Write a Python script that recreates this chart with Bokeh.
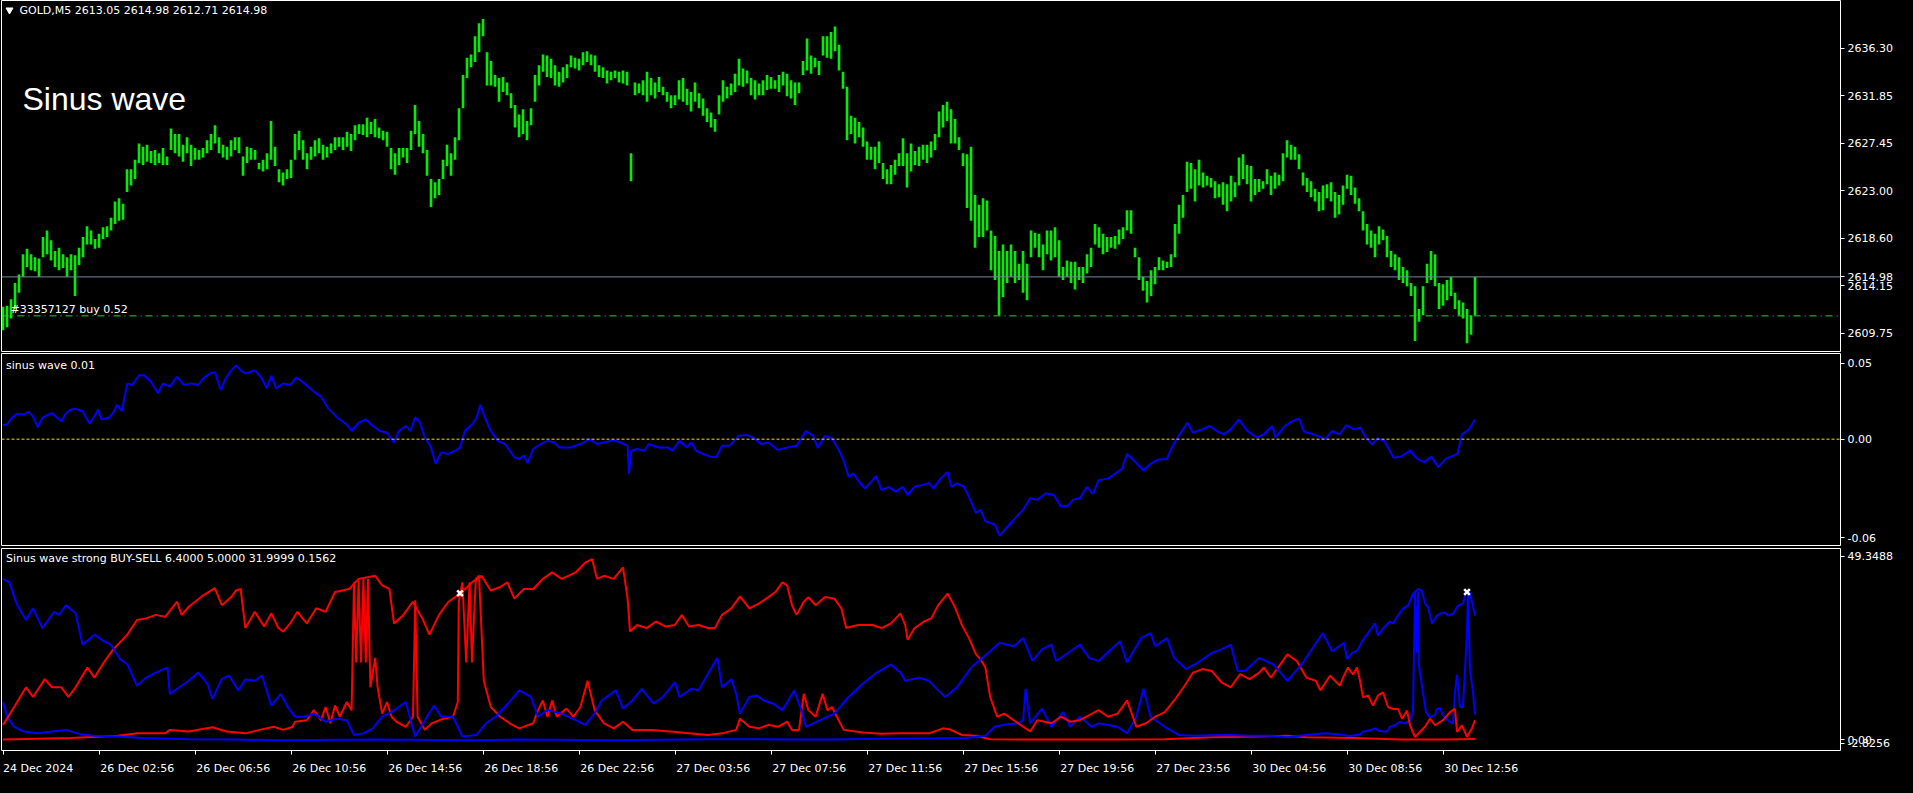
from bokeh.plotting import figure
from bokeh.layouts import column
from bokeh.models import Range1d, Span, Label, FixedTicker
from bokeh.embed import file_html
from bokeh.resources import INLINE

# ---------------- data ----------------
symbol_title = "GOLD,M5  2613.05 2614.98 2612.71 2614.98"
chart_title = "Sinus wave"
sub1_title = "sinus wave 0.01"
sub2_title = "Sinus wave strong BUY-SELL 6.4000 5.0000 31.9999 0.1562"
order_text = "#33357127 buy 0.52"
last_price = 2614.98
order_price = 2611.35

# one entry per 2 M5 bars (highs / lows)
price_hi = [
    2612.2, 2612.3, 2612.9, 2614.4, 2615.2, 2617.1, 2617.6, 2617.1, 2616.8, 2616.7,
    2618.7, 2619.3, 2618.4, 2617.4, 2617.7, 2617.1, 2616.8, 2617.1, 2617.0, 2617.7,
    2618.7, 2619.7, 2619.3, 2618.5, 2619.0, 2619.6, 2619.7, 2620.5, 2622.0, 2622.3,
    2621.8, 2625.0, 2625.0, 2625.9, 2627.4, 2627.1, 2627.3, 2626.7, 2626.8, 2626.5,
    2627.0, 2626.2, 2628.8, 2628.3, 2628.3, 2627.3, 2628.0, 2627.3, 2627.0, 2626.8,
    2627.0, 2627.7, 2628.3, 2629.1, 2628.0, 2627.3, 2627.1, 2627.7, 2628.0, 2628.0,
    2626.2, 2627.1, 2627.0, 2626.8, 2625.6, 2625.9, 2626.5, 2629.5, 2627.1, 2625.0,
    2624.7, 2625.0, 2625.9, 2628.3, 2628.6, 2627.7, 2626.5, 2627.1, 2627.7, 2627.9,
    2627.3, 2627.1, 2627.4, 2628.0, 2628.0, 2628.0, 2628.5, 2628.3, 2629.1, 2629.2,
    2629.2, 2629.8, 2629.4, 2629.7, 2628.9, 2628.6, 2628.5, 2627.0, 2626.5, 2627.0,
    2627.0, 2627.0, 2628.6, 2631.0, 2629.5, 2628.3, 2626.8, 2624.1, 2623.8, 2624.1,
    2625.9, 2627.3, 2626.5, 2628.0, 2630.7, 2633.8, 2635.4, 2635.7, 2637.4, 2638.6,
    2639.0, 2635.9, 2635.1, 2633.8, 2633.5, 2633.6, 2633.1, 2632.1, 2631.0, 2630.1,
    2630.6, 2629.5, 2630.7, 2633.8, 2634.7, 2635.7, 2635.6, 2635.3, 2634.7, 2634.1,
    2634.5, 2634.8, 2635.6, 2635.4, 2635.3, 2635.9, 2636.0, 2635.7, 2635.6, 2634.7,
    2634.5, 2634.2, 2634.1, 2634.2, 2634.1, 2634.2, 2634.1, 2626.5, 2633.1, 2633.0,
    2633.3, 2634.1, 2633.5, 2633.1, 2633.6, 2632.7, 2632.2, 2631.9, 2631.9, 2633.3,
    2633.5, 2632.5, 2632.2, 2633.1, 2632.1, 2631.6, 2630.7, 2630.3, 2629.7, 2631.9,
    2633.3, 2632.7, 2633.0, 2633.9, 2635.3,
    2634.4, 2634.2, 2633.5, 2633.3, 2633.0, 2633.3, 2633.8, 2633.6, 2633.3, 2633.8,
    2634.1, 2633.9, 2633.3, 2633.1, 2633.1, 2635.1, 2637.2, 2635.6, 2635.4, 2635.1,
    2637.4, 2637.4, 2637.8, 2638.3, 2636.6, 2634.1, 2632.7, 2630.0, 2629.8, 2629.4,
    2628.9, 2627.6, 2627.1, 2627.1, 2627.6, 2625.6, 2625.0, 2625.4, 2625.9, 2626.5,
    2627.9, 2626.5, 2627.4, 2626.7, 2627.1, 2627.3, 2627.3, 2627.6, 2628.3, 2630.4,
    2631.0, 2631.3, 2630.6, 2629.7, 2628.0, 2626.5, 2626.4, 2627.1, 2622.6, 2621.7,
    2622.3, 2622.1, 2619.3, 2618.8, 2617.4, 2618.0, 2617.4, 2618.0, 2617.4, 2616.2,
    2617.4, 2616.2, 2619.3, 2619.1, 2619.0, 2618.0, 2619.3, 2619.3, 2619.6, 2618.4,
    2615.9, 2616.5, 2616.4, 2616.4, 2615.9, 2615.9, 2617.1, 2617.7, 2619.9, 2619.6,
    2619.0, 2618.7, 2618.7, 2618.8, 2619.4, 2619.6, 2621.2, 2621.2, 2617.7, 2616.8,
    2615.0, 2614.6, 2615.6, 2615.9, 2616.8, 2616.5, 2616.4, 2617.1, 2619.9, 2621.7,
    2622.6, 2625.7, 2625.6, 2625.0, 2625.9, 2624.7, 2624.4, 2624.2, 2623.9, 2623.6,
    2623.8, 2623.6, 2624.4, 2623.8, 2626.1, 2626.4, 2625.4, 2625.3, 2624.1, 2624.1,
    2623.9, 2625.0, 2624.4, 2624.7, 2624.5, 2626.5, 2627.7, 2627.3, 2627.1, 2626.4,
    2624.7, 2624.2, 2623.9, 2623.2, 2622.9, 2623.5, 2623.6, 2623.8, 2622.9, 2622.6,
    2623.5, 2624.5, 2624.4, 2623.3, 2622.3, 2621.1, 2619.9, 2619.3, 2619.0, 2619.7,
    2619.4, 2618.8, 2617.4, 2617.1, 2616.8, 2615.9, 2615.6, 2614.4, 2614.1, 2612.0,
    2614.1, 2616.2, 2617.4, 2617.1, 2614.4, 2614.3, 2614.7, 2615.0, 2613.5, 2612.8,
    2612.6, 2612.0, 2611.4, 2615.0,
]
price_lo = [
    2610.0, 2610.3, 2611.1, 2612.0, 2613.5, 2615.0, 2615.9, 2615.6, 2615.5, 2615.0,
    2616.8, 2617.1, 2616.5, 2615.9, 2615.6, 2615.8, 2615.0, 2615.6, 2613.2, 2616.1,
    2616.8, 2618.0, 2618.0, 2617.6, 2617.7, 2618.5, 2618.7, 2619.3, 2619.9, 2620.2,
    2620.3, 2622.9, 2623.5, 2624.1, 2625.6, 2625.4, 2625.7, 2625.6, 2625.4, 2625.6,
    2625.4, 2625.4, 2626.8, 2626.5, 2626.2, 2625.7, 2626.5, 2625.3, 2625.9, 2625.9,
    2626.1, 2626.5, 2626.8, 2627.4, 2626.5, 2626.1, 2625.9, 2626.2, 2626.8, 2626.5,
    2624.4, 2625.6, 2625.9, 2625.9, 2625.0, 2624.8, 2625.0, 2625.9, 2625.3, 2623.8,
    2623.5, 2624.1, 2624.2, 2625.9, 2626.8, 2625.9, 2625.0, 2625.9, 2626.2, 2626.5,
    2625.9, 2626.1, 2626.5, 2626.8, 2627.1, 2626.8, 2627.1, 2626.7, 2627.7, 2628.3,
    2628.2, 2628.0, 2628.3, 2628.0, 2627.9, 2627.7, 2627.1, 2625.0, 2624.5, 2625.4,
    2626.1, 2625.6, 2626.8, 2628.3, 2627.1, 2626.5, 2624.4, 2621.5, 2622.3, 2622.6,
    2624.1, 2625.3, 2624.4, 2625.9, 2627.7, 2630.7, 2633.5, 2634.5, 2635.0, 2635.9,
    2637.4, 2632.8, 2632.8, 2632.7, 2631.3, 2632.2, 2631.9, 2630.7, 2628.9, 2628.0,
    2628.3, 2627.7, 2629.1, 2631.3, 2632.8, 2634.1, 2633.6, 2633.5, 2632.8, 2632.7,
    2633.1, 2633.5, 2634.5, 2634.4, 2634.2, 2634.7, 2635.0, 2634.7, 2634.1, 2633.6,
    2633.5, 2633.0, 2633.3, 2633.5, 2633.1, 2633.0, 2632.8, 2623.9, 2631.9, 2632.1,
    2631.9, 2631.3, 2631.9, 2631.6, 2632.2, 2631.9, 2631.3, 2630.7, 2631.0, 2631.5,
    2631.3, 2631.0, 2630.4, 2631.3, 2630.7, 2630.0, 2629.4, 2628.9, 2628.5, 2630.1,
    2631.3, 2631.6, 2631.9, 2632.2, 2632.8,
    2632.7, 2633.0, 2631.9, 2631.5, 2631.9, 2631.9, 2632.4, 2632.5, 2632.5, 2632.2,
    2632.8, 2631.8, 2631.6, 2631.0, 2632.1, 2633.8, 2634.2, 2633.9, 2634.5, 2633.8,
    2635.6, 2635.4, 2635.3, 2636.0, 2634.2, 2632.5, 2627.7, 2628.3, 2627.4, 2628.0,
    2627.1, 2625.9, 2625.9, 2625.0, 2625.6, 2624.1, 2623.6, 2623.6, 2624.5, 2625.3,
    2625.3, 2623.3, 2624.8, 2625.4, 2625.3, 2625.9, 2625.6, 2626.1, 2626.8, 2628.0,
    2628.9, 2629.5, 2627.4, 2627.4, 2626.8, 2625.3, 2621.4, 2620.2, 2617.7, 2618.7,
    2618.7, 2619.3, 2615.6, 2614.7, 2611.4, 2613.1, 2614.4, 2615.0, 2614.4, 2614.7,
    2613.5, 2612.8, 2616.8, 2617.7, 2616.8, 2615.6, 2617.1, 2616.5, 2616.8, 2615.0,
    2614.7, 2615.0, 2614.4, 2613.8, 2614.7, 2614.4, 2615.3, 2615.9, 2618.0, 2617.7,
    2617.1, 2617.3, 2617.7, 2617.6, 2618.0, 2618.5, 2619.3, 2619.0, 2616.8, 2614.7,
    2613.7, 2612.6, 2613.2, 2614.3, 2615.6, 2615.6, 2615.8, 2615.9, 2616.8, 2619.0,
    2620.5, 2622.9, 2623.2, 2622.0, 2623.5, 2623.3, 2623.5, 2623.3, 2622.3, 2622.4,
    2621.7, 2621.1, 2622.0, 2622.4, 2623.5, 2624.1, 2623.6, 2622.0, 2622.6, 2622.9,
    2623.2, 2623.6, 2622.6, 2623.2, 2623.5, 2623.9, 2626.1, 2625.9, 2625.9, 2625.0,
    2623.5, 2622.9, 2622.4, 2622.0, 2621.1, 2621.2, 2622.3, 2622.0, 2620.5, 2620.8,
    2621.7, 2623.2, 2622.6, 2621.8, 2621.1, 2619.3, 2618.0, 2617.7, 2616.8, 2618.0,
    2618.4, 2616.8, 2615.9, 2615.6, 2614.7, 2614.4, 2614.1, 2613.2, 2609.0, 2610.8,
    2611.4, 2614.4, 2614.7, 2614.1, 2612.0, 2612.3, 2612.8, 2613.2, 2612.0, 2611.4,
    2611.1, 2608.8, 2609.6, 2611.4,
]

price_ticks = [2636.30, 2631.85, 2627.45, 2623.00, 2618.60, 2614.15, 2609.75]
price_tick_labels = ["2636.30", "2631.85", "2627.45", "2623.00", "2618.60", "2614.15", "2609.75"]

time_ticks = [0, 48, 96, 144, 192, 240, 288, 336, 384, 432, 480, 528, 576, 624, 672, 720]
time_labels = ["24 Dec 2024", "26 Dec 02:56", "26 Dec 06:56", "26 Dec 10:56", "26 Dec 14:56",
               "26 Dec 18:56", "26 Dec 22:56", "27 Dec 03:56", "27 Dec 07:56", "27 Dec 11:56",
               "27 Dec 15:56", "27 Dec 19:56", "27 Dec 23:56", "30 Dec 04:56", "30 Dec 08:56",
               "30 Dec 12:56"]

# (bar index, value)
sinus_pts = [
    (0, 0.0093), (2, 0.0097), (4.4, 0.0141), (6.8, 0.0167), (10.3, 0.0162), (12.7, 0.0180),
    (15, 0.0151), (17.4, 0.0080), (19.7, 0.0141), (22.1, 0.0158), (24.5, 0.0173), (26.8, 0.0145),
    (29.2, 0.0119), (31.5, 0.0173), (33.9, 0.0195), (36.3, 0.0201), (39.8, 0.0184), (43.3, 0.0102),
    (45.7, 0.0151), (47.6, 0.0195), (49.2, 0.0130), (52.8, 0.0141), (55.1, 0.0173), (57, 0.0227),
    (59.4, 0.0184), (61, 0.0292), (62.2, 0.0368), (64.6, 0.0357), (68.1, 0.0422), (70.5, 0.0422),
    (74, 0.0379), (77.5, 0.0303), (79.9, 0.0368), (83.4, 0.0346), (87, 0.0411), (90.5, 0.0357),
    (94.1, 0.0368), (97.6, 0.0357), (100, 0.0400), (103.5, 0.0433), (105.9, 0.0443), (108.9, 0.0324),
    (111.3, 0.0400), (114.1, 0.0454), (116.5, 0.0487), (118.8, 0.0454), (121.2, 0.0433), (125.9, 0.0454),
    (129.5, 0.0400), (131.8, 0.0335), (134.2, 0.0417), (136.5, 0.0335), (140.1, 0.0368), (143.6, 0.0357),
    (146.7, 0.0407), (150.7, 0.0368), (155.4, 0.0314), (159, 0.0281), (162.5, 0.0205), (164.9, 0.0173),
    (167.2, 0.0141), (171.9, 0.0097), (174.3, 0.0054), (177.8, 0.0108), (181.4, 0.0130), (185, 0.0087),
    (188.5, 0.0054), (192, 0.0043), (195.5, -0.0022), (197.9, 0.0054), (201.4, 0.0087), (203.8, 0.0054),
    (206.1, 0.0145), (208.5, 0.0108), (210.9, 0.0011), (213.7, -0.0043), (216.3, -0.0162), (219.1, -0.0087),
    (222.7, -0.0097), (226.2, -0.0076), (228.6, -0.0054), (230.9, 0.0054), (234.5, 0.0097), (236.8, 0.0141),
    (238.7, 0.0227), (240.4, 0.0162), (243.9, 0.0054), (247.4, -0.0011), (251, -0.0032), (255.7, -0.0119),
    (258.1, -0.0130), (260.4, -0.0108), (262.3, -0.0158), (265.1, -0.0065), (268.7, -0.0032), (272.2, -0.0011),
    (275.7, -0.0022), (278.1, -0.0054), (284, -0.0054), (288.7, -0.0032), (293.4, 0.0), (297, -0.0032),
    (300.5, -0.0022), (305.3, -0.0006), (308.8, -0.0022), (312.3, -0.0043), (313, -0.0227), (314.2, -0.0076),
    (317, -0.0065), (320.6, -0.0076), (322.9, -0.0032), (327.7, -0.0054), (332.4, -0.0054), (334.7, -0.0076),
    (338.3, -0.0011), (341.8, -0.0054), (344.2, -0.0022), (346.5, -0.0076), (350.1, -0.0097), (353.6, -0.0115),
    (356.7, -0.0119), (359.5, -0.0043), (363.1, -0.0043), (365.4, -0.0015), (367.8, 0.0022),
    (372, 0.0028), (375.6, 0.0006), (379.1, -0.0032), (382.7, -0.0022), (387.4, -0.0071), (392.1, -0.0054),
    (396.8, -0.0043), (401.5, 0.0054), (405.1, 0.0022), (407.4, -0.0058), (411, 0.0022), (414.5, 0.0006),
    (418.1, -0.0076), (420.4, -0.0141), (422.8, -0.0249), (425.1, -0.0227), (428.7, -0.0292), (431, -0.0324),
    (433.4, -0.0292), (436.5, -0.0244), (439.3, -0.0335), (442.8, -0.0314), (446.4, -0.0346), (449.9, -0.0314),
    (452.3, -0.0368), (455.8, -0.0314), (459.4, -0.0303), (462.9, -0.0288), (465.2, -0.0324), (468.8, -0.0260),
    (472.3, -0.0216), (474.2, -0.0314), (477, -0.0292), (480.6, -0.0314), (482.9, -0.0379), (486.5, -0.0487),
    (488.8, -0.0465), (491.2, -0.0541), (495.9, -0.0562), (498.3, -0.0638), (501.8, -0.0584), (505.4, -0.0530),
    (510.1, -0.0465), (513.6, -0.0389), (517.2, -0.0400), (521.4, -0.0357), (525.4, -0.0368), (529, -0.0443),
    (532.5, -0.0439), (534.9, -0.0400), (538.4, -0.0389), (542, -0.0314), (545, -0.0361), (547.8, -0.0270),
    (552.5, -0.0260), (556.1, -0.0227), (559.6, -0.0195), (562, -0.0097), (565.5, -0.0141), (570.2, -0.0205),
    (573.8, -0.0162), (577.3, -0.0136), (582, -0.0130), (584.4, -0.0054), (587.9, 0.0022), (592.2, 0.0108),
    (595, 0.0043), (599.7, 0.0065), (603.3, 0.0087), (606.8, 0.0054), (610.4, 0.0032), (613.9, 0.0065),
    (617.9, 0.0130), (622.2, 0.0054), (626.9, 0.0011), (630.4, 0.0032), (634.7, 0.0087), (636.3, 0.0011),
    (641, 0.0087), (644.6, 0.0119), (648.1, 0.0136), (650.5, 0.0050), (655.2, 0.0032), (661.1, 0.0),
    (664.6, 0.0054), (668.2, 0.0032), (671.7, 0.0093), (675.3, 0.0065), (678.8, 0.0076), (681.1, 0.0015),
    (684.7, -0.0037), (687.1, 0.0006), (690.6, -0.0011), (695.3, -0.0123), (698.8, -0.0115), (703.6, -0.0076),
    (707.1, -0.0130), (710.6, -0.0151), (714.2, -0.0115), (717.7, -0.0184), (721.3, -0.0130), (727.2, -0.0097),
    (729.5, 0.0032), (733.1, 0.0065), (736, 0.0130),
]

blue_strong_pts = [
    (0, 41.5), (3.2, 40.6), (6.8, 35.1), (11.5, 30.9), (15.0, 33.9), (19.7, 28.8), (25.6, 33.0), (28.0, 32.2),
    (31.5, 34.7), (36.3, 32.6), (39.8, 24.5), (45.7, 27.1), (50.4, 25.4), (54.0, 24.5), (58.7, 20.7), (62.2, 19.4),
    (67.0, 13.9), (71.6, 16.0), (76.4, 17.3), (82.3, 18.6), (83.4, 11.8), (88.2, 13.5), (92.9, 15.2), (97.6, 17.3),
    (102.3, 14.4), (104.7, 10.5), (109.4, 15.6), (113.0, 16.5), (117.7, 12.7), (121.2, 15.6), (125.9, 15.2),
    (129.5, 16.5), (134.2, 8.8), (138.9, 11.8), (142.4, 8.4), (146.0, 5.9), (150.7, 5.9), (155.4, 6.7), (161.3, 4.6),
    (167.2, 5.4), (171.9, 5.0), (175.5, 1.2), (180.2, 1.6), (184.9, 2.9), (189.6, 5.9), (194.3, 7.1), (201.4, 9.7),
    (206.1, 0.8), (212.0, 5.9), (215.6, 8.8), (219.1, 5.9), (225.0, 5.9), (229.7, 0.8), (236.8, 1.2), (241.5, 4.2),
    (246.3, 5.9), (251.0, 8.4), (258.1, 12.7), (264.0, 11.0), (267.5, 5.9), (272.2, 7.6), (279.3, 6.7), (286.4, 5.0),
    (291.1, 3.8), (295.8, 6.7), (299.4, 10.1), (306.4, 12.7), (310.0, 8.0), (314.7, 10.1), (319.4, 13.1), (325.3, 9.3),
    (330.0, 11.0), (335.9, 14.8), (338.3, 11.0), (344.2, 13.1), (347.7, 12.7), (352.4, 16.9), (357.2, 21.1),
    (359.5, 13.5), (364.2, 15.6), (366.6, 11.8), (368.5, 6.7), (373.2, 11.0), (376.8, 11.4), (380.3, 10.1),
    (385.0, 9.3), (389.7, 7.6), (395.6, 12.7), (399.2, 7.6), (401.5, 3.3), (408.6, 5.0), (415.7, 6.7), (422.8, 11.0),
    (429.9, 14.4), (436.9, 17.3), (444.0, 19.4), (448.7, 17.3), (451.1, 15.2), (458.2, 16.0), (462.9, 15.2),
    (467.6, 12.7), (471.1, 11.0), (477.0, 13.5), (484.1, 18.6), (488.8, 20.7), (493.6, 22.8), (498.3, 25.0),
    (505.4, 24.1), (510.1, 26.2), (514.8, 20.3), (519.5, 23.3), (524.2, 24.5), (526.6, 20.3), (533.7, 22.8),
    (538.4, 24.5), (543.1, 21.1), (547.8, 20.3), (554.9, 23.7), (558.5, 25.4), (562.0, 19.9), (569.1, 26.2),
    (573.8, 27.5), (576.1, 24.1), (582.0, 26.2), (585.6, 21.1), (591.5, 18.2), (597.4, 19.9), (604.5, 22.4),
    (609.2, 23.3), (613.9, 24.5), (617.4, 17.7), (621.0, 17.7), (628.1, 21.1), (635.1, 19.4), (642.2, 15.2),
    (649.3, 19.4), (659.9, 27.5), (664.6, 22.8), (670.5, 25.0), (672.0, 20.8), (674.5, 22.4), (677, 22.9),
    (680, 25.7), (683.5, 28.2), (686, 30.0), (687.5, 26.9), (690, 28.7), (693.5, 30.5), (695, 30.0), (697.5, 32.0),
    (700, 33.8), (702.5, 34.6), (705, 37.6), (707.5, 38.9), (709.5, 38.4), (711, 35.1), (712.5, 34.3), (714.5, 30.0),
    (717, 32.0), (718.5, 32.5), (721, 32.8), (722.5, 32.0), (725, 32.5), (727.5, 34.6), (730, 35.1), (731.5, 38.1),
    (733.5, 37.9), (735, 34.3), (736, 32.0),
]

blue_weak_pts = [
    (0, 9.7), (2.0, 5.9), (5.6, 3.3), (10.3, 2.1), (17.4, 1.6), (24.5, 2.1), (31.5, 2.5), (38.6, 1.4), (45.7, 1.0),
    (57.5, 0.8), (69.3, 0.4), (92.9, 0.1), (116.5, 0.0), (140.1, -0.2), (187.3, 0.0), (234.5, -0.2), (258.1, 0.0),
    (305.3, -0.2), (352.4, 0.1), (368.5, 0.1), (392.1, 0.0), (415.7, 0.0), (439.3, 0.2), (462.9, 0.3), (481.8, 0.4),
    (491.2, 1.0), (495.9, 3.3), (500.6, 3.8), (507.7, 4.2), (510.1, 5.0), (511.3, 13.1), (513.6, 4.2), (519.5, 8.0),
    (524.2, 3.3), (530.1, 7.1), (533.7, 3.3), (538.4, 5.9), (544.3, 3.3), (547.8, 4.2), (557.3, 3.3), (562.0, 1.6),
    (566.7, 5.9), (570.2, 13.1), (573.8, 5.9), (580.9, 3.3), (587.9, 1.2), (595.0, 1.0), (604.5, 1.1), (613.9, 1.2),
    (623.3, 1.0), (632.8, 1.0), (642.2, 0.6), (651.7, 1.2), (661.1, 1.6), (668.5, 1.3), (673.5, 0.9), (678.5, 1.3),
    (680, 2.0), (683.5, 2.4), (686, 2.9), (688.5, 2.2), (692, 2.0), (693.5, 3.3), (696, 3.7), (698.5, 4.6),
    (701, 4.1), (703.5, 5.0), (705, 7.1), (706, 38.1), (707, 22.4), (707.5, 38.1), (708, 19.0), (710, 12.2),
    (711.5, 7.1), (713.5, 5.8), (716, 6.3), (717, 7.9), (718.5, 8.1), (720, 6.3), (722.5, 5.0), (725, 4.1),
    (726, 12.2), (727, 16.8), (727.5, 13.9), (728.5, 8.4), (730, 8.4), (731, 18.1), (732, 27.5), (732.5, 38.1),
    (733.5, 18.1), (735, 12.2), (736, 6.4),
]

red_strong_pts = [
    (0, 3.8), (5.6, 8.4), (11.5, 13.5), (15.0, 11.0), (20.9, 15.6), (24.5, 13.5), (29.2, 13.5), (32.7, 11.0),
    (36.3, 13.5), (42.2, 18.6), (45.7, 16.0), (50.4, 19.9), (55.1, 23.3), (62.2, 27.1), (67.0, 30.9), (71.6, 31.3),
    (76.4, 32.2), (81.1, 31.7), (87.0, 35.6), (89.3, 32.2), (92.9, 34.3), (100.0, 37.2), (105.9, 39.1), (109.4, 34.7),
    (114.1, 36.8), (116.5, 38.5), (118.8, 38.9), (121.2, 28.8), (125.9, 33.0), (130.6, 29.2), (134.2, 32.6),
    (137.7, 28.8), (140.1, 27.9), (143.6, 30.0), (147.2, 33.0), (151.9, 30.0), (156.6, 33.9), (161.3, 33.0),
    (166.0, 38.1), (173.1, 38.9), (177.8, 41.5), (186.1, 42.3), (189.6, 39.8), (193.2, 38.9), (195.5, 30.0),
    (200.2, 32.2), (204.9, 35.6), (209.7, 31.3), (213.2, 27.1), (218.0, 32.2), (222.7, 35.6), (228.6, 37.7),
    (234.5, 40.6), (239.2, 42.3), (243.9, 38.5), (248.6, 39.4), (252.2, 40.6), (255.7, 36.4), (260.4, 38.9),
    (265.1, 38.9), (269.9, 41.5), (274.6, 43.2), (279.3, 41.5), (286.4, 43.2), (291.1, 45.7), (294.6, 46.6),
    (297.0, 41.5), (300.5, 42.3), (305.3, 41.5), (310.0, 44.5), (312.3, 36.4), (313.5, 27.9), (317.0, 29.6),
    (321.8, 28.8), (326.5, 30.5), (331.2, 29.2), (335.9, 29.6), (339.5, 32.2), (343.0, 29.2), (347.7, 29.6),
    (352.4, 28.8), (356.0, 28.8), (359.5, 32.2), (364.2, 33.9), (368.5, 37.0), (373.2, 33.9), (377.9, 35.1),
    (382.7, 36.8), (386.2, 38.1), (389.7, 40.6), (392.1, 39.8), (394.5, 34.7), (396.8, 32.2), (400.4, 35.6),
    (402.7, 36.8), (406.3, 34.7), (411.0, 36.8), (415.7, 36.4), (419.2, 33.9), (421.6, 28.8), (427.5, 29.6),
    (434.6, 29.6), (439.3, 28.8), (444.0, 30.0), (448.7, 32.6), (451.1, 29.6), (452.3, 25.8), (455.8, 28.8),
    (460.5, 30.5), (464.1, 31.3), (467.6, 34.7), (472.3, 37.7), (475.9, 34.3), (479.4, 29.6), (483.0, 26.2),
    (486.5, 22.0), (488.8, 20.7), (491.2, 18.6), (493.6, 11.0), (497.1, 5.9), (500.6, 6.7), (505.4, 5.0),
    (510.1, 3.3), (513.6, 2.1), (517.2, 5.0), (524.2, 4.2), (529.0, 5.9), (533.7, 4.6), (538.4, 5.0), (543.1, 6.3),
    (547.8, 7.6), (552.5, 5.9), (557.3, 6.7), (562.0, 10.1), (566.7, 3.3), (571.4, 4.2), (576.1, 5.9), (580.9, 7.1),
    (585.6, 10.1), (590.3, 13.5), (595.0, 17.3), (599.7, 18.2), (604.5, 17.7), (609.2, 14.8), (613.9, 13.5),
    (618.6, 16.9), (623.3, 15.6), (628.1, 17.3), (630.4, 18.6), (634.0, 16.0), (637.5, 18.6), (642.2, 22.0),
    (646.9, 20.3), (651.7, 16.0), (656.4, 15.2), (658.7, 12.7), (663.5, 16.5), (668.5, 13.9), (670, 16.0),
    (672.5, 18.6), (675, 16.8), (677, 18.6), (678.5, 15.2), (680, 10.9), (682.5, 11.4), (685, 8.8), (687.5, 11.4),
    (690, 12.2), (692.5, 8.4), (695, 7.9), (697.5, 7.9), (699.5, 5.4), (702, 7.5), (703.5, 3.7), (706, 0.7),
    (708.5, 2.0), (711, 3.3), (713.5, 5.4), (716, 3.7), (720, 5.0), (723.5, 7.1), (726, 7.9), (727, 2.0),
    (729.5, 3.7), (732, 0.7), (734.5, 2.9), (736, 5.0),
]

red_weak_pts = [
    (0, 0.0), (33.9, 0.4), (57.5, 1.0), (67.0, 1.6), (81.1, 1.6), (83.4, 2.5), (92.9, 2.1), (104.7, 3.2),
    (111.8, 2.1), (121.2, 1.6), (128.3, 2.5), (135.4, 3.3), (140.1, 2.5), (144.8, 3.3), (146.0, 4.6), (151.9, 5.0),
    (155.4, 7.6), (159.0, 5.0), (161.3, 8.4), (163.7, 4.2), (166.0, 8.8), (168.4, 5.9), (171.9, 9.7), (174.3, 7.6),
    (175.5, 40.6), (176.6, 19.9), (177.8, 41.1), (179.0, 19.9), (180.2, 41.5), (181.4, 19.9), (182.5, 41.5),
    (183.7, 13.5), (186.1, 21.1), (187.3, 13.5), (189.6, 6.7), (192.0, 9.7), (194.3, 5.9), (196.7, 4.6),
    (201.4, 3.3), (205.0, 5.9), (206.1, 36.0), (207.3, 5.9), (210.9, 2.5), (214.4, 4.2), (220.3, 5.4), (225.0, 5.9),
    (227.4, 9.7), (227.9, 35.6), (229.7, 40.6), (231.6, 19.9), (233.3, 40.6), (234.5, 19.9), (236.4, 41.5),
    (238.0, 42.3), (240.4, 15.2), (243.9, 8.4), (248.6, 5.9), (253.3, 4.2), (258.1, 2.9), (265.1, 4.2),
    (267.5, 7.6), (269.9, 10.1), (272.2, 5.9), (274.6, 10.1), (276.9, 5.9), (281.7, 8.0), (285.2, 5.9),
    (288.7, 8.4), (292.3, 15.2), (295.8, 7.6), (300.5, 4.2), (305.3, 2.9), (310.0, 4.6), (314.7, 2.5),
    (324.1, 2.5), (333.6, 2.1), (343.0, 1.6), (352.4, 1.2), (359.5, 1.6), (366.6, 2.5), (368.5, 5.4),
    (373.2, 3.3), (377.9, 2.9), (382.7, 3.8), (387.4, 3.3), (392.1, 4.6), (394.5, 2.5), (398.0, 2.5),
    (400.4, 11.8), (402.7, 7.6), (406.3, 5.9), (409.8, 11.8), (412.2, 7.6), (414.5, 8.4), (416.9, 5.9),
    (420.4, 2.5), (429.9, 1.8), (439.3, 1.5), (448.7, 1.6), (462.9, 1.6), (470.0, 2.9), (473.5, 2.6),
    (479.4, 1.2), (486.5, 1.0), (493.6, 0.1), (510.1, 0.0), (533.7, 0.0), (557.3, 0.0), (580.9, 0.1),
    (604.5, 0.6), (628.1, 0.8), (642.2, 1.0), (651.7, 0.6), (675.3, 0.4), (698.8, 0.0), (722.4, 0.0), (736, 0.16),
]

cross_x = [228.5, 732]
cross_y = [37.8, 38.1]

# ---------------- layout / style ----------------
BG = "#000000"
FG = "#FFFFFF"
GREEN = "#00EE00"
BLUE = "#0000FF"
RED = "#FF0000"
SMALL_FONT = "DejaVu Sans"
W = 1897
LB = 1
FRAME_W = 1839
RB = W - FRAME_W - LB
H1, F1 = 353, 351
H2, F2 = 195, 192
H3, F3 = 229, 204
CHAR_W = 6.2  # approx. average glyph width of the 11px labels, in px

xr = Range1d(-0.75, -0.75 + FRAME_W / 2.0)
yr1 = Range1d(2608.03, 2640.73)
yr2 = Range1d(-0.0701, 0.0565)
yr3 = Range1d(-2.8256, 49.3488)


def y_from_top(rng, frame_h, px):
    return rng.end - (rng.end - rng.start) * px / frame_h


def x_from_left(px):
    return xr.start + px / 2.0


def make_fig(h, bottom, yr, xaxis):
    p = figure(width=W, height=h, x_range=xr, y_range=yr, output_backend="svg",
               toolbar_location=None, y_axis_location="right",
               x_axis_location="below" if xaxis else None,
               min_border_left=LB, min_border_right=RB, min_border_top=0,
               min_border_bottom=bottom, background_fill_color=BG, border_fill_color=BG,
               outline_line_color=FG, outline_line_width=1)
    p.xgrid.visible = False
    p.ygrid.visible = False
    ax = p.yaxis[0]
    ax.axis_line_color = None
    ax.major_tick_line_color = FG
    ax.major_tick_out = 4
    ax.major_tick_in = 0
    ax.minor_tick_line_color = None
    ax.major_label_text_color = FG
    ax.major_label_text_font = SMALL_FONT
    ax.major_label_text_font_size = "11px"
    ax.major_label_standoff = 3
    return p


def small_label(p, x, y, text, **kw):
    p.add_layout(Label(x=x, y=y, text=text, text_color=FG, text_font=SMALL_FONT,
                       text_font_size="11px", text_baseline="middle", **kw))


# ---- main price window ----
p1 = make_fig(H1, 2, yr1, False)
axis_ticks = price_ticks + [last_price]
axis_labels = price_tick_labels + ["%.2f" % last_price]
p1.yaxis[0].ticker = FixedTicker(ticks=axis_ticks)
p1.yaxis[0].major_label_overrides = dict(zip(axis_ticks, axis_labels))

bars = [2 * k for k in range(len(price_hi))]
p1.segment(x0=bars, y0=price_lo, x1=bars, y1=price_hi, line_color=GREEN, line_width=2.6)
p1.add_layout(Span(location=last_price, dimension="width", line_color="#778899", line_width=1))
p1.add_layout(Span(location=order_price, dimension="width", line_color="#32CD32",
                   line_width=1, line_dash="7 4 1 4"))
small_label(p1, x_from_left(9), order_price + (yr1.end - yr1.start) * 6.5 / F1, order_text)
p1.scatter(x=[x_from_left(8)], y=[y_from_top(yr1, F1, 9.5)], marker="inverted_triangle",
           size=7, color=FG)
small_label(p1, x_from_left(18), y_from_top(yr1, F1, 9.5), symbol_title)
p1.add_layout(Label(x=x_from_left(21), y=y_from_top(yr1, F1, 98), text=chart_title,
                    text_color=FG, text_font="Liberation Sans", text_font_size="32px",
                    text_baseline="alphabetic"))

# ---- sinus wave window ----
p2 = make_fig(H2, 3, yr2, False)
p2.yaxis[0].ticker = FixedTicker(ticks=[0.05, 0.0, -0.065])
p2.yaxis[0].major_label_overrides = {0.05: "0.05", 0.0: "0.00", -0.065: "-0.06"}
p2.add_layout(Span(location=0.0, dimension="width", line_color="#FFD700", line_width=1,
                   line_dash="3 2"))
p2.line([q[0] for q in sinus_pts], [q[1] for q in sinus_pts], line_color=BLUE, line_width=2)
small_label(p2, x_from_left(4.5), y_from_top(yr2, F2, 11.5), sub1_title)

# ---- strong BUY-SELL window ----
p3 = make_fig(H3, 25, yr3, True)
p3.yaxis[0].ticker = FixedTicker(ticks=[47.3, 0.0, -1.0])
p3.yaxis[0].major_label_overrides = {47.3: "49.3488", 0.0: "0.00", -1.0: "-2.8256"}
for pts, col in ((red_weak_pts, RED), (blue_weak_pts, BLUE), (red_strong_pts, RED), (blue_strong_pts, BLUE)):
    p3.line([q[0] for q in pts], [q[1] for q in pts], line_color=col, line_width=2)
p3.scatter(x=cross_x, y=cross_y, marker="x", size=8, line_width=2.5, color=FG)
small_label(p3, x_from_left(4.5), y_from_top(yr3, F3, 10), sub2_title)

# time axis: tick marks (minor) at the bar, label text starting just right of it
label_pos = [t + (len(s) * CHAR_W / 2.0 + 1) / 2.0 for t, s in zip(time_ticks, time_labels)]
xa = p3.xaxis[0]
xa.ticker = FixedTicker(ticks=label_pos, minor_ticks=time_ticks)
xa.major_label_overrides = dict(zip(label_pos, time_labels))
xa.axis_line_color = None
xa.major_tick_line_color = None
xa.major_tick_out = 0
xa.major_tick_in = 0
xa.minor_tick_line_color = FG
xa.minor_tick_out = 4
xa.minor_tick_in = 0
xa.major_label_text_color = FG
xa.major_label_text_font = SMALL_FONT
xa.major_label_text_font_size = "11px"
xa.major_label_standoff = 7

layout = column(p1, p2, p3, spacing=0, background=BG)
html = file_html(layout, INLINE, "Sinus wave")
html = html.replace("</head>", "<style>html,body{background:#000000;}</style></head>", 1)
open("out.html", "w").write(html)
